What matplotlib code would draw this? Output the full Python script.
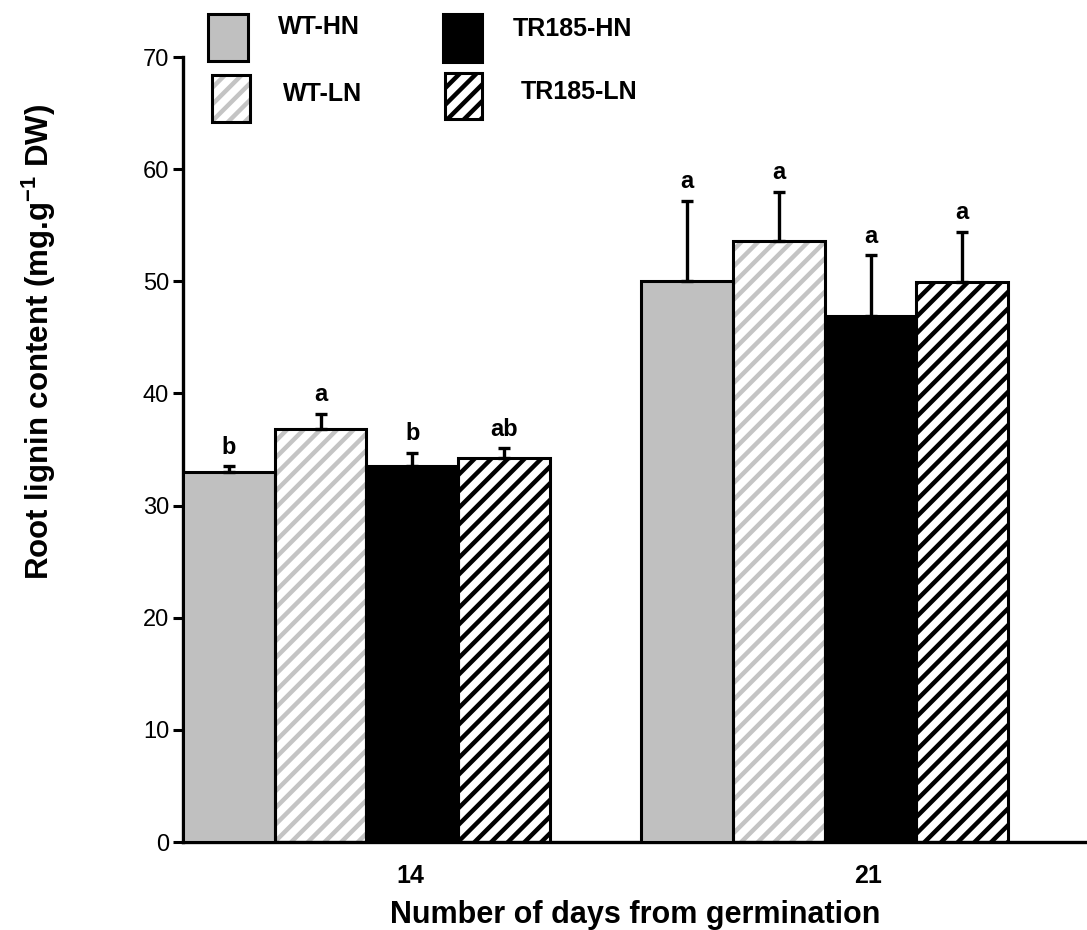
import matplotlib
matplotlib.use('Agg')
import matplotlib.pyplot as plt
import numpy as np
from matplotlib.patches import Rectangle

# ---- data ----
days = ['14', '21']
series_names = ['WT-HN', 'WT-LN', 'TR185-HN', 'TR185-LN']
wt_hn = [33.0, 50.0]
wt_ln = [36.8, 53.6]
tr_hn = [33.5, 46.9]
tr_ln = [34.2, 49.9]
wt_hn_err = [0.5, 7.2]
wt_ln_err = [1.4, 4.4]
tr_hn_err = [1.2, 5.4]
tr_ln_err = [0.9, 4.5]
wt_hn_sig = ['b', 'a']
wt_ln_sig = ['a', 'a']
tr_hn_sig = ['b', 'a']
tr_ln_sig = ['ab', 'a']

values = [wt_hn, wt_ln, tr_hn, tr_ln]
errors = [wt_hn_err, wt_ln_err, tr_hn_err, tr_ln_err]
sigs = [wt_hn_sig, wt_ln_sig, tr_hn_sig, tr_ln_sig]

# ---- styles ----
GRAY = '#c0c0c0'
styles = [
    dict(face=GRAY, hatch=None, hcolor=None),
    dict(face='white', hatch='//', hcolor='#c4c4c4'),
    dict(face='black', hatch=None, hcolor=None),
    dict(face='white', hatch='//', hcolor='black'),
]

plt.rcParams['font.family'] = ['Liberation Sans', 'DejaVu Sans']
plt.rcParams['mathtext.fontset'] = 'custom'
plt.rcParams['mathtext.rm'] = 'Liberation Sans'
plt.rcParams['mathtext.bf'] = 'Liberation Sans:bold'
plt.rcParams['hatch.linewidth'] = 3.2

fig = plt.figure(figsize=(10.87, 9.3), dpi=100)
W, H = 1087, 930
ax = fig.add_axes([183 / W, 1 - 842 / H, 1 - 183 / W, (842 - 57) / H])

width = 0.2
x = np.arange(len(days))
for i, (vals, errs, sg, st) in enumerate(zip(values, errors, sigs, styles)):
    pos = x + (i - 1.5) * width
    if st['hatch']:
        ax.bar(pos, vals, width, color=st['face'], edgecolor=st['hcolor'],
               hatch=st['hatch'], linewidth=0, zorder=2)
        ax.bar(pos, vals, width, fill=False, edgecolor='black', linewidth=2.2, zorder=3)
    else:
        ax.bar(pos, vals, width, color=st['face'], edgecolor='black',
               linewidth=2.2, zorder=3)
    ax.errorbar(pos, vals, yerr=[np.zeros(len(vals)), errs], fmt='none',
                ecolor='black', elinewidth=2.4, capsize=4.6, capthick=2.4, zorder=4)
    for p, v, e, s in zip(pos, vals, errs, sg):
        ax.annotate(s, (p, v + e), xytext=(0, 9), textcoords='offset points',
                    ha='center', va='baseline', fontsize=17, fontweight='bold', zorder=5)

ax.set_xlim(-0.4, 1.572)
ax.set_ylim(0, 70)
ax.set_yticks(np.arange(0, 71, 10))
ax.set_xticks(x + 0.095)
ax.set_xticklabels(days, fontsize=18, fontweight='bold')
ax.tick_params(axis='x', length=0, pad=15.5)
ax.tick_params(axis='y', direction='out', length=7, width=2.2, labelsize=17, pad=3)
for s in ['top', 'right']:
    ax.spines[s].set_visible(False)
for s in ['left', 'bottom']:
    ax.spines[s].set_linewidth(2.4)

ax.set_xlabel('Number of days from germination', fontsize=22, fontweight='bold', labelpad=9)
ax.set_ylabel('Root lignin content (mg.g$^{\\mathbf{-1}}$ DW)', fontsize=22.5,
              fontweight='bold')
ax.yaxis.set_label_coords(-0.138, 0.637)

# ---- legend (manual) ----
def fig_rect(px, py, pw, ph, **kw):
    return Rectangle((px / W, 1 - (py + ph) / H), pw / W, ph / H,
                     transform=fig.transFigure, **kw)

leg_layout = [
    (208, 14, 40, 47, 278, 27),
    (212, 75, 38, 47, 283, 94),
    (443, 14, 39, 48, 513, 29),
    (445, 73, 37, 46, 521, 92),
]
for name, st, (px, py, pw, ph, tx, ty) in zip(series_names, styles, leg_layout):
    if st['hatch']:
        fig.add_artist(fig_rect(px, py, pw, ph, facecolor=st['face'], edgecolor=st['hcolor'],
                                hatch=st['hatch'], linewidth=0))
        fig.add_artist(fig_rect(px, py, pw, ph, fill=False, edgecolor='black', linewidth=2.2))
    else:
        fig.add_artist(fig_rect(px, py, pw, ph, facecolor=st['face'], edgecolor='black',
                                linewidth=2.2))
    fig.text(tx / W, 1 - ty / H, name, fontsize=18, fontweight='bold',
             ha='left', va='center')

fig.savefig('out.png', dpi=100)
